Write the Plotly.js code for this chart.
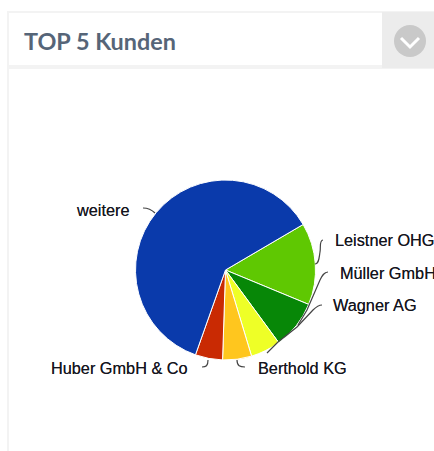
<!DOCTYPE html>
<html><head><meta charset="utf-8">
<script src="https://cdn.plot.ly/plotly-3.0.1.min.js"></script>
<style>html,body{margin:0;padding:0;background:#fff;overflow:hidden}#c{width:434px;height:451px}</style>
</head><body><div id="c"></div>
<script>
const customers = ["Leistner OHG","Müller GmbH","Wagner AG","Berthold KG","Huber GmbH & Co","weitere"];
const shares = [14.7,8.7,5.4,5.2,4.9,61.2];
const colors = ["#5fc802","#078707","#eeff27","#ffc61e","#c92a03","#0a3aab"];
const W=434,H=451;
const px=x=>x/W, py=y=>1-y/H;
const cx=225.5, cy=270, r=90;
const labelPos=[[334,240],[339,273],[332,305],[257,368],[50,368],[75,210]];
const leaders=[
 "M323,240 C319,240 321,248 320,252 C319,258 319,264 315,264",
 "M328,272 C324,272 322,276 320,280 L307,310 L298,325",
 "M322,305 C318,305 316,307 313,310 L297,327 L278,342 L267,353",
 "M237,360 C237,366 240,367 245,367",
 "M208,360 C208,366 206,367 202,367",
 "M143,208 C149,208 152,210 155,213"];
function mapPath(p){return p.replace(/(-?[\d.]+),(-?[\d.]+)/g,(m,a,b)=>px(+a)+","+py(+b));}
const shapes=[
 {type:"rect",xref:"paper",yref:"paper",x0:px(7),x1:px(434),y0:py(65),y1:py(69),fillcolor:"#f3f3f3",line:{width:0}},
 {type:"rect",xref:"paper",yref:"paper",x0:px(7),x1:px(434),y0:py(11),y1:py(13),fillcolor:"#f3f3f3",line:{width:0}},
 {type:"rect",xref:"paper",yref:"paper",x0:px(7),x1:px(9),y0:py(11),y1:py(451),fillcolor:"#f3f3f3",line:{width:0}},
 {type:"rect",xref:"paper",yref:"paper",x0:px(382),x1:px(434),y0:py(12),y1:py(68),fillcolor:"#ececec",line:{width:0}},
 {type:"circle",xref:"paper",yref:"paper",x0:px(394),x1:px(426),y0:py(57),y1:py(25),fillcolor:"#c9c9c9",line:{width:0}},
 {type:"path",xref:"paper",yref:"paper",path:mapPath("M401,38 L410,47 L419,38"),line:{color:"#ffffff",width:3}}
].concat(leaders.map(p=>({type:"path",xref:"paper",yref:"paper",path:mapPath(p),line:{color:"#444444",width:1.2}})));
const annotations=customers.map((t,i)=>({text:t,xref:"paper",yref:"paper",x:px(labelPos[i][0]),y:py(labelPos[i][1]),xanchor:"left",yanchor:"middle",showarrow:false,align:"left",borderpad:0,font:{family:"Liberation Sans",size:16.3,color:"#14141e",shadow:"0 0 0.6px rgba(0,0,0,0.7)"}}));
annotations.push({text:"<b>TOP 5 Kunden</b>",xref:"paper",yref:"paper",x:px(23),y:py(41),xanchor:"left",yanchor:"middle",showarrow:false,borderpad:0,font:{family:"Lato",size:23.4,color:"#566578"}});
Plotly.newPlot("c",[{type:"pie",labels:customers,values:shares,sort:false,direction:"clockwise",rotation:59.6,textinfo:"none",hoverinfo:"label+percent",
 marker:{colors:colors,line:{color:"#ffffff",width:1}},showlegend:false,
 domain:{x:[px(cx-r),px(cx+r)],y:[py(cy+r),py(cy-r)]}}],
 {width:W,height:H,margin:{l:0,r:0,t:0,b:0},paper_bgcolor:"#ffffff",showlegend:false,shapes:shapes,annotations:annotations},
 {displayModeBar:false,staticPlot:true});
</script></body></html>
